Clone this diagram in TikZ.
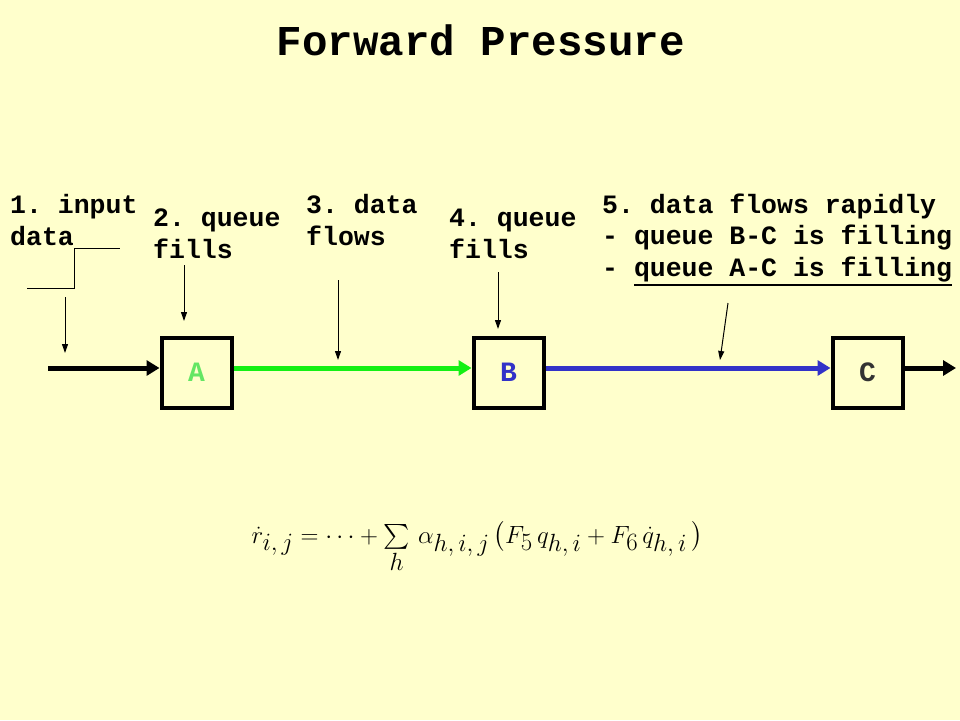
\documentclass[tikz,border=0pt]{standalone}
\usepackage{amsmath}
\usepackage{fontspec}
\setmonofont{Liberation Mono}
\usetikzlibrary{arrows.meta}
\definecolor{bgyellow}{RGB}{255,255,204}
\definecolor{flowgreen}{RGB}{20,240,20}
\definecolor{flowblue}{RGB}{50,50,200}
\definecolor{lettergreen}{RGB}{100,230,100}
\definecolor{letterblue}{RGB}{50,50,200}
\newcommand\ulpart[1]{\setbox0\hbox{#1}\rlap{\rule[-10pt]{\wd0}{2pt}}\box0}
\tikzset{
  qbox/.style={draw=black, line width=4pt, minimum size=70pt, inner sep=0pt,
    font=\fontsize{28}{30}\selectfont\ttfamily\bfseries},
  flow/.style={line width=5pt, -{Triangle[length=13pt,width=15pt]}},
  pointer/.style={line width=1pt, -{Triangle[length=9pt,width=6pt]}},
  lbl/.style={anchor=base west, inner sep=0pt, align=left,
    font=\fontsize{26.5}{31.5}\selectfont\ttfamily\bfseries},
  stepline/.style={line width=1pt}
}
\begin{document}
\begin{tikzpicture}[x=1pt,y=-1pt]
\fill[bgyellow] (0,0) rectangle (960,720);
\useasboundingbox (0,0) rectangle (960,720);
% title
\node[inner sep=0pt, anchor=base, font=\fontsize{42.5}{46}\selectfont\ttfamily\bfseries] (title) at (481,55) {Forward Pressure};
% boxes
\node[qbox, text=lettergreen] (A) at (196.5,372.5) {A};
\node[qbox, text=letterblue] (B) at (508.5,372.5) {B};
\node[qbox, text=black!80] (C) at (867.5,372.5) {C};
\coordinate (in) at (48,368);
\coordinate (out) at (956,368);
\draw[flow, draw=black, fill=black, line cap=butt] (in) -- (in -| A.west);
\draw[flow, draw=flowgreen, fill=flowgreen] (A.east |- 0,368) -- (B.west |- 0,368);
\draw[flow, draw=flowblue, fill=flowblue] (B.east |- 0,368) -- (C.west |- 0,368);
\draw[flow, draw=black, fill=black] (C.east |- 0,368) -- (out);
% labels (anchor = baseline of last line)
\node[lbl] (l1) at (10,245) {1. input\\data};
\node[lbl] (l2) at (153,258) {2. queue\\fills};
\node[lbl] (l3) at (306,245) {3. data\\flows};
\node[lbl] (l4) at (449,258) {4. queue\\fills};
\node[lbl] (l5) at (602,276) {5. data flows rapidly\\- queue B-C is filling\\- \ulpart{queue A-C is filling}};
% step signal
\coordinate (s1) at (27,288);
\coordinate (s2) at (74,288);
\coordinate (s3) at (74,248);
\coordinate (s4) at (120,248);
\draw[stepline] (s1) -- (s2) -- (s3) -- (s4);
% pointers
\coordinate (p1a) at (65,297); \coordinate (p1b) at (65,353);
\coordinate (p2a) at (184,265); \coordinate (p2b) at (184,321);
\coordinate (p3a) at (338,280); \coordinate (p3b) at (338,360);
\coordinate (p4a) at (498,272); \coordinate (p4b) at (498,329);
\coordinate (p5a) at (728,303); \coordinate (p5b) at (720,360);
\draw[pointer] (p1a) -- (p1b);
\draw[pointer] (p2a) -- (p2b);
\draw[pointer] (p3a) -- (p3b);
\draw[pointer] (p4a) -- (p4b);
\draw[pointer] (p5a) -- (p5b);
% equation
\node[inner sep=0pt, anchor=base, font=\fontsize{34}{40}\selectfont] (eq) at (477,543)
  {$\dot r_{i,\,j}=\cdots+\sum\limits_{h}\,\alpha_{h,\,i,\,j}\,\bigl(F_5\, q_{h,\,i}+F_6\,\dot q_{h,\,i}\,\bigr)$};
\end{tikzpicture}
\end{document}
